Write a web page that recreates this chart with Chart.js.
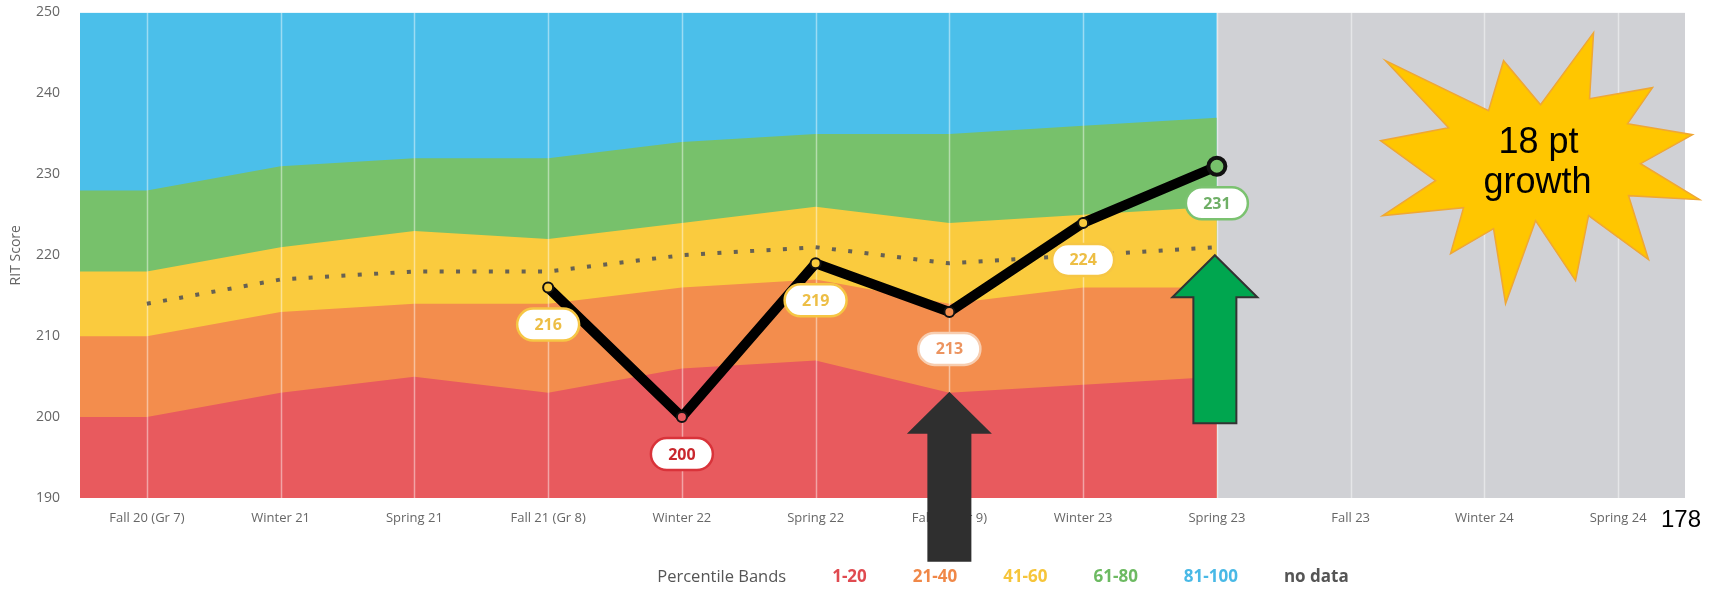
<!DOCTYPE html>
<html>
<head>
<meta charset="utf-8">
<script src="https://cdn.jsdelivr.net/npm/chart.js@4.4.1/dist/chart.umd.min.js"></script>
<style>
	html, body { margin: 0; padding: 0; background: #fff; }
</style>
</head>
<body>
<canvas id="rit" width="1721" height="589"></canvas>
<script>
// Terms on the x axis
var terms = ['Fall 20 (Gr 7)', 'Winter 21', 'Spring 21', 'Fall 21 (Gr 8)', 'Winter 22', 'Spring 22',
             'Fall 22 (Gr 9)', 'Winter 23', 'Spring 23', 'Fall 23', 'Winter 24', 'Spring 24'];

// Percentile band boundaries (RIT), one value per normed term
var pct20  = [200, 203, 205, 203, 206, 207, 203, 204, 205];
var pct40  = [210, 213, 214, 214, 216, 217, 214, 216, 216];
var pct60  = [218, 221, 223, 222, 224, 226, 224, 225, 226];
var pct80  = [228, 231, 232, 232, 234, 235, 235, 236, 237];
var median = [214, 217, 218, 218, 220, 221, 219, 220, 221];

// Student scores, from Fall 21 on
var studentTerms = [3, 4, 5, 6, 7, 8];
var studentRit   = [216, 200, 219, 213, 224, 231];

var yMin = 190, yMax = 250, yStep = 10;
var bandNames = ['1-20', '21-40', '41-60', '61-80', '81-100', 'no data'];

// Colours
var bandFill    = ['#E85A5E', '#F38D4D', '#FACB3E', '#77C16B', '#4BBFEA', '#D0D1D5'];
var legendInk   = ['#E04A50', '#F08848', '#F6C53A', '#6DBA62', '#49B9E6', '#555555'];
var labelInk    = ['#C9272D', '#EC9460', '#EDBE45', '#6FAF66', '#49B9E6'];
var labelBorder = ['#D9333A', '#F7CDB0', '#F6C644', '#7BC270', '#49B9E6'];

Chart.defaults.font.family = "'Open Sans', sans-serif";

// band line from the left edge of the plot to the last normed term
function bandLine(vals) {
	var pts = [{ x: -0.5, y: vals[0] }];
	vals.forEach(function (v, i) { pts.push({ x: i, y: v }); });
	return pts;
}

// which percentile band a score falls in for a given term
function bandOf(term, v) {
	var tops = [pct20[term], pct40[term], pct60[term], pct80[term]];
	for (var i = 0; i < tops.length; i++) {
		if (v < tops[i]) return i;
	}
	return 4;
}

var lastNormed = pct20.length - 1;
var ceiling = pct20.map(function () { return yMax; });
var studentBand = studentRit.map(function (v, i) { return bandOf(studentTerms[i], v); });

function band(label, vals, color, order) {
	return {
		label       : label,
		data        : bandLine(vals),
		fill        : 'start',
		backgroundColor : color,
		borderWidth : 0,
		pointRadius : 0,
		tension     : 0,
		order       : order
	};
}

function pill(ctx, cx, cy, w, h) {
	var r = h / 2;
	ctx.beginPath();
	ctx.moveTo(cx - w / 2 + r, cy - r);
	ctx.lineTo(cx + w / 2 - r, cy - r);
	ctx.arc(cx + w / 2 - r, cy, r, -Math.PI / 2, Math.PI / 2);
	ctx.lineTo(cx - w / 2 + r, cy + r);
	ctx.arc(cx - w / 2 + r, cy, r, Math.PI / 2, Math.PI * 1.5);
	ctx.closePath();
}

function upArrow(ctx, x, tipY, len, headW, headH, shaftW, fill, stroke) {
	ctx.beginPath();
	ctx.moveTo(x, tipY);
	ctx.lineTo(x + headW / 2, tipY + headH);
	ctx.lineTo(x + shaftW / 2, tipY + headH);
	ctx.lineTo(x + shaftW / 2, tipY + len);
	ctx.lineTo(x - shaftW / 2, tipY + len);
	ctx.lineTo(x - shaftW / 2, tipY + headH);
	ctx.lineTo(x - headW / 2, tipY + headH);
	ctx.closePath();
	ctx.fillStyle = fill;
	ctx.fill();
	if (stroke) {
		ctx.strokeStyle = stroke;
		ctx.lineWidth = 2;
		ctx.stroke();
	}
}

// burst outline, offsets from its centre
var burst = [[-155,-108],[-52,-58],[-37,-108],[0,-64],[53,-136],[49,-70],[112,-81],[87,-45],
             [152,-34],[100,-5],[159,31],[88,27],[108,91],[48,47],[35,112],[-5,52],[-35,135],
             [-47,60],[-90,85],[-77,39],[-158,47],[-105,12],[-160,-28],[-92,-41]];

var overlay = {
	id : 'overlay',

	// term grid lines sit on top of the bands, under the lines
	beforeDatasetDraw : function (chart, args) {
		if (chart.data.datasets[args.index].label !== 'Median') return;
		var ctx = chart.ctx, a = chart.chartArea, xs = chart.scales.x;
		ctx.save();
		ctx.strokeStyle = 'rgba(255,255,255,0.45)';
		ctx.lineWidth = 1.5;
		xs.ticks.forEach(function (t) {
			var x = Math.round(xs.getPixelForValue(t.value)) + 0.5;
			ctx.beginPath();
			ctx.moveTo(x, a.top);
			ctx.lineTo(x, a.bottom);
			ctx.stroke();
		});
		ctx.restore();
	},

	afterDatasetsDraw : function (chart) {
		var ctx = chart.ctx;
		var meta = chart.getDatasetMeta(chart.data.datasets.length - 1);
		ctx.save();
		ctx.font = "bold 16px 'Open Sans'";
		ctx.textAlign = 'center';
		ctx.textBaseline = 'middle';
		meta.data.forEach(function (pt, i) {
			var b = studentBand[i];
			pill(ctx, pt.x, pt.y + 37, 62, 32);
			ctx.fillStyle = '#fff';
			ctx.fill();
			ctx.lineWidth = 2.5;
			ctx.strokeStyle = labelBorder[b];
			ctx.stroke();
			ctx.fillStyle = labelInk[b];
			ctx.fillText(String(studentRit[i]), pt.x, pt.y + 38);
		});
		ctx.restore();
	},

	afterDraw : function (chart) {
		var ctx = chart.ctx, xs = chart.scales.x, ys = chart.scales.y;
		ctx.save();

		// arrows
		upArrow(ctx, xs.getPixelForValue(6), ys.getPixelForValue(pct20[6]) - 1, 170, 85, 42, 44, '#2F2F2F', null);
		upArrow(ctx, xs.getPixelForValue(lastNormed) - 2, ys.getPixelForValue(220), 168, 85, 42, 43, '#00A64F', '#333');

		// growth burst
		var cx = xs.getPixelForValue(10.42), cy = ys.getPixelForValue(230.7);
		ctx.beginPath();
		burst.forEach(function (p, i) {
			if (i === 0) ctx.moveTo(cx + p[0], cy + p[1]);
			else ctx.lineTo(cx + p[0], cy + p[1]);
		});
		ctx.closePath();
		ctx.fillStyle = '#FFC600';
		ctx.fill();
		ctx.strokeStyle = '#EFA735';
		ctx.lineWidth = 1.5;
		ctx.stroke();
		ctx.fillStyle = '#000';
		ctx.font = "36px 'Liberation Sans', Arial, sans-serif";
		ctx.textAlign = 'center';
		ctx.textBaseline = 'alphabetic';
		ctx.fillText('18 pt', cx - 2, cy - 16);
		ctx.fillText('growth', cx - 3, cy + 24);

		// slide number
		ctx.textAlign = 'left';
		ctx.font = "24px 'Liberation Sans', Arial, sans-serif";
		ctx.fillText('178', 1661, 527);

		// legend
		var title = 'Percentile Bands', gap = 46, y = 577;
		ctx.font = "16.5px 'Open Sans'";
		var widths = [ctx.measureText(title).width];
		ctx.font = "bold 17px 'Open Sans'";
		bandNames.forEach(function (n) { widths.push(ctx.measureText(n).width); });
		var total = widths.reduce(function (s, w) { return s + w; }, 0) + gap * bandNames.length;
		var x = 1003 - total / 2;
		ctx.textBaseline = 'middle';
		ctx.font = "16.5px 'Open Sans'";
		ctx.fillStyle = '#555';
		ctx.fillText(title, x, y);
		x += widths[0] + gap;
		ctx.font = "bold 17px 'Open Sans'";
		bandNames.forEach(function (n, i) {
			ctx.fillStyle = legendInk[i];
			ctx.fillText(n, x, y);
			x += widths[i + 1] + gap;
		});

		ctx.restore();
	}
};

var ctx = document.getElementById('rit');
var ritChart = new Chart(ctx, {
	type : 'line',
	data : {
		datasets : [
			{
				label       : 'no data',
				data        : [{ x: lastNormed, y: yMax }, { x: terms.length - 0.5, y: yMax }],
				fill        : 'start',
				backgroundColor : bandFill[5],
				borderWidth : 0,
				pointRadius : 0,
				order       : 8
			},
			band('81-100', ceiling, bandFill[4], 7),
			band('61-80',  pct80,   bandFill[3], 6),
			band('41-60',  pct60,   bandFill[2], 5),
			band('21-40',  pct40,   bandFill[1], 4),
			band('1-20',   pct20,   bandFill[0], 3),
			{
				label          : 'Median',
				data           : median.map(function (v, i) { return { x: i, y: v }; }),
				borderColor    : 'rgba(85,85,85,0.9)',
				borderWidth    : 4,
				borderDash     : [4, 12.4],
				borderCapStyle : 'butt',
				pointRadius    : 0,
				fill           : false,
				tension        : 0,
				order          : 2
			},
			{
				label           : 'Student',
				data            : studentRit.map(function (v, i) { return { x: studentTerms[i], y: v }; }),
				borderColor     : '#000',
				borderWidth     : 10,
				borderJoinStyle : 'round',
				borderCapStyle  : 'round',
				fill            : false,
				tension         : 0,
				pointRadius     : studentRit.map(function (v, i) { return i === studentRit.length - 1 ? 8.5 : 5; }),
				pointBorderWidth: studentRit.map(function (v, i) { return i === studentRit.length - 1 ? 4 : 2; }),
				pointBorderColor: '#111',
				pointBackgroundColor : studentBand.map(function (b) { return bandFill[b]; }),
				order           : 1
			}
		]
	},
	options : {
		responsive : false,
		animation  : false,
		layout : { padding : { top: 11, right: 36, left: 0, bottom: 0 } },
		plugins : {
			legend  : { display: false },
			tooltip : { enabled: false }
		},
		scales : {
			x : {
				type : 'linear',
				min  : -0.5,
				max  : terms.length - 0.5,
				afterBuildTicks : function (s) {
					s.ticks = terms.map(function (t, i) { return { value: i }; });
				},
				afterFit : function (s) { s.height = 91; },
				grid   : { display: false, drawTicks: false },
				border : { display: false },
				ticks  : {
					autoSkip    : false,
					maxRotation : 0,
					padding     : 12,
					color       : '#666',
					font        : { size: 13 },
					callback    : function (v) { return terms[v]; }
				}
			},
			y : {
				min : yMin,
				max : yMax,
				afterFit : function (s) {
					s.width = 80;
					s.paddingTop = 0;
					s.paddingBottom = 0;
				},
				grid   : { display: false, drawTicks: false },
				border : { display: false },
				ticks  : {
					stepSize : yStep,
					padding  : 20,
					color    : '#666',
					font     : { size: 14 }
				},
				title : {
					display : true,
					text    : 'RIT Score',
					color   : '#666',
					font    : { size: 14 },
					padding : { top: 8, bottom: 0 }
				}
			}
		}
	},
	plugins : [overlay]
});
</script>
</body>
</html>
